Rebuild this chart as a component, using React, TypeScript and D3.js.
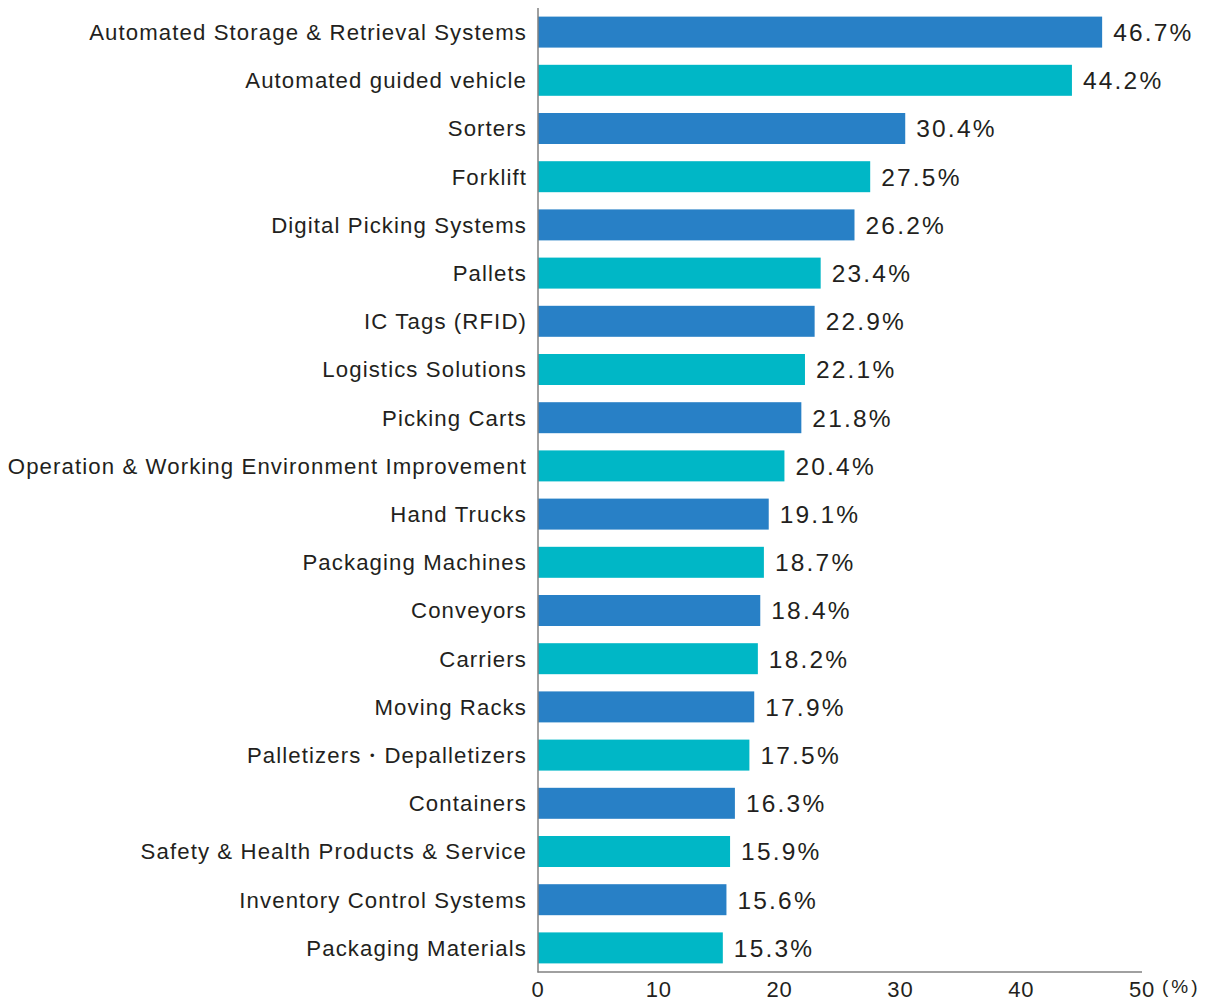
import * as d3 from "d3";

const categories = [
  "Automated Storage & Retrieval Systems",
  "Automated guided vehicle",
  "Sorters",
  "Forklift",
  "Digital Picking Systems",
  "Pallets",
  "IC Tags (RFID)",
  "Logistics Solutions",
  "Picking Carts",
  "Operation & Working Environment Improvement",
  "Hand Trucks",
  "Packaging Machines",
  "Conveyors",
  "Carriers",
  "Moving Racks",
  "Palletizers・Depalletizers",
  "Containers",
  "Safety & Health Products & Service",
  "Inventory Control Systems",
  "Packaging Materials",
];

const values = [
  46.7, 44.2, 30.4, 27.5, 26.2, 23.4, 22.9, 22.1, 21.8, 20.4, 19.1, 18.7, 18.4,
  18.2, 17.9, 17.5, 16.3, 15.9, 15.6, 15.3,
];

const xTicks = [0, 10, 20, 30, 40, 50];

const colors = ["#2880c6", "#00b7c6"];

const width = 1205;
const height = 1001;
const font = "'Liberation Sans', Arial, sans-serif";

export default function App() {
  const x = d3.scaleLinear().domain([0, 50]).range([538, 1142]);
  const y = d3
    .scaleBand<string>()
    .domain(categories)
    .range([8, 972])
    .paddingInner(0.357)
    .paddingOuter(0.1785);

  return (
    <svg
      width={width}
      height={height}
      style={{ position: "absolute", left: 0, top: 0 }}
    >
      <rect width={width} height={height} fill="#fff" />
      {categories.map((c, i) => (
        <g key={c}>
          <rect
            x={x(0)}
            y={y(c)}
            width={x(values[i]) - x(0)}
            height={y.bandwidth()}
            fill={colors[i % 2]}
          />
          {/* letterSpacing trails the last glyph, so shift anchor right */}
          <text
            x={527}
            y={y(c)! + y.bandwidth() / 2}
            dy="0.36em"
            textAnchor="end"
            fontFamily={font}
            fontSize={22.2}
            letterSpacing={1.1}
            fill="#231f20"
          >
            {c}
          </text>
          <text
            x={x(values[i]) + 11}
            y={y(c)! + y.bandwidth() / 2}
            dy="0.36em"
            fontFamily={font}
            fontSize={24.5}
            letterSpacing={2.2}
            fill="#231f20"
          >
            {values[i].toFixed(1)}%
          </text>
        </g>
      ))}
      <line x1={538} x2={538} y1={8} y2={972.5} stroke="#808080" strokeWidth={1.5} />
      <line x1={537.5} x2={x(50)} y1={972} y2={972} stroke="#808080" strokeWidth={1.5} />
      {xTicks.map((t) => (
        <text
          key={t}
          x={x(t)}
          y={997}
          textAnchor="middle"
          fontFamily={font}
          fontSize={22}
          letterSpacing={0.8}
          fill="#231f20"
        >
          {t}
        </text>
      ))}
      <text x={1162} y={993} fontFamily={font} fontSize={19} letterSpacing={3} fill="#231f20">
        (%)
      </text>
    </svg>
  );
}
